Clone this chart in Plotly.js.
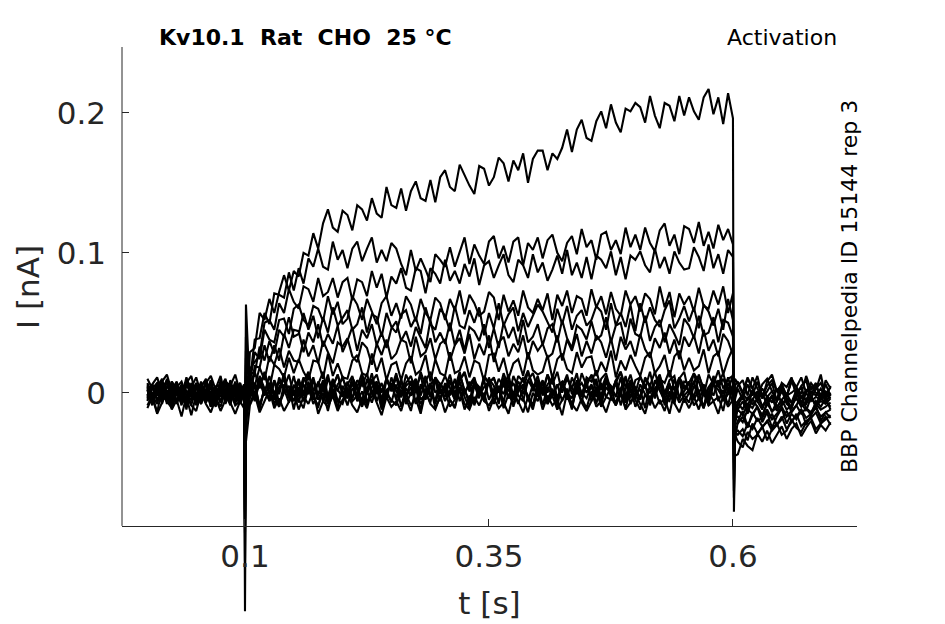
<!DOCTYPE html>
<html>
<head>
<meta charset="utf-8">
<script src="https://cdn.plot.ly/plotly-3.0.1.min.js"></script>
<style>
  html, body { margin: 0; padding: 0; background: #fff; }
  #chart { width: 945px; height: 624px; }
</style>
</head>
<body>
<div id="chart"></div>
<script>
// sample times in ms (pre-pulse, step on, step 0.1-0.6 s, step off, tail)
var tMs = [
  0,5,10,15,20,25,30,35,40,45,50,55,60,65,70,75,80,85,90,95,99,
  100,101,
  105,110,115,120,125,130,135,140,145,150,
  155,160,165,170,175,180,185,190,195,200,
  205,210,215,220,225,230,235,240,245,250,
  255,260,265,270,275,280,285,290,295,300,
  305,310,315,320,325,330,335,340,345,350,
  355,360,365,370,375,380,385,390,395,400,
  405,410,415,420,425,430,435,440,445,450,
  455,460,465,470,475,480,485,490,495,500,
  505,510,515,520,525,530,535,540,545,550,
  555,560,565,570,575,580,585,590,595,600,
  601,602,
  605,610,615,620,625,630,635,640,645,650,655,660,665,670,675,680,685,690,695,700
];

// currents in pA, one sweep per voltage step
var sweepA = [
  3,-5,6,-2,8,-7,1,-4,9,-3,5,-8,2,7,-6,4,-1,-9,6,-3,2,
  -156,-30,
  29,32,57,52,67,57,72,84,73,87,
  83,100,98,114,103,121,131,118,115,130,
  127,116,134,131,123,139,128,125,147,134,
  132,146,130,144,151,139,137,152,136,154,
  159,147,144,163,155,148,142,162,160,148,
  154,168,164,151,166,159,171,150,167,173,
  173,159,171,167,175,188,172,188,195,182,
  180,194,201,189,206,193,186,203,201,207,
  204,193,212,198,189,207,205,194,212,198,
  211,201,195,211,217,199,211,192,214,196,
  -85,-45,
  -44,-33,-38,-41,-29,-35,-27,-36,-30,-24,-33,-26,-22,-31,-25,-20,-29,-23,-27,-21
];
var sweepB = [
  -4,6,-2,9,-5,3,-8,1,7,-3,-6,4,10,-2,5,-7,2,-4,8,-1,-3,
  -95,-15,
  9,38,39,57,49,71,70,68,86,73,
  89,78,96,90,103,90,88,108,95,102,
  89,103,108,94,103,111,93,102,94,107,
  103,92,84,102,87,96,88,79,99,95,
  90,104,90,100,111,92,106,98,92,108,
  112,96,105,93,108,111,91,107,102,111,
  96,109,113,100,94,107,112,99,117,104,
  109,95,113,115,102,109,99,118,104,113,
  102,118,107,101,116,121,105,113,99,119,
  117,107,122,105,115,103,120,109,117,106,
  -62,-30,
  -35,-39,-28,-33,-30,-24,-34,-26,-22,-30,-27,-19,-25,-28,-21,-18,-26,-22,-17,-23
];
var sweepC = [
  5,-3,7,-6,2,-9,4,8,-2,-5,3,6,-7,1,-4,9,-8,2,5,-6,4,
  -60,5,
  17,22,27,50,52,45,64,57,74,65,
  60,76,74,65,82,69,72,82,68,79,
  82,66,81,79,69,87,75,85,68,83,
  78,89,75,73,89,87,71,89,85,78,
  95,80,87,78,92,83,96,77,91,94,
  82,91,99,84,79,95,91,82,99,86,
  93,80,88,98,85,102,84,93,82,97,
  81,98,95,89,101,84,97,81,98,95,
  101,91,86,103,89,97,85,101,93,88,
  89,104,97,87,106,89,99,85,102,97,
  -50,-28,
  -30,-26,-34,-22,-29,-25,-20,-27,-23,-17,-26,-21,-15,-24,-20,-18,-14,-22,-19,-16
];
var sweepD = [
  -6,4,-1,7,-8,3,5,-4,-9,2,6,-3,8,-7,1,4,-5,-2,7,-6,3,
  -90,-10,
  7,29,24,45,38,36,52,53,42,60,
  63,52,48,62,60,51,69,56,65,49,
  53,69,63,52,67,58,49,64,69,55,
  64,53,69,63,51,67,57,52,68,64,
  52,67,59,73,56,70,64,55,58,72,
  68,52,70,58,66,55,73,61,57,67,
  59,71,52,70,62,73,57,69,67,55,
  74,61,69,56,72,60,55,73,63,69,
  58,71,67,56,76,61,72,54,71,63,
  69,58,75,62,60,73,63,76,57,71,
  -55,-28,
  -27,-31,-22,-26,-18,-24,-21,-15,-23,-19,-13,-20,-17,-12,-18,-15,-11,-17,-14,-12
];
var sweepE = [
  2,-7,5,-1,-4,8,-6,3,-2,6,-9,4,-3,7,-5,2,9,-4,-1,5,-7,
  -75,0,
  14,14,33,23,37,28,45,40,54,40,
  42,57,45,55,39,54,43,61,48,54,
  59,45,49,61,43,56,54,40,57,47,
  43,56,59,47,54,42,61,49,45,60,
  55,44,62,48,46,59,50,61,41,57,
  46,64,48,56,61,44,57,47,55,63,
  58,50,43,60,49,62,45,55,59,48,
  52,62,58,45,64,48,57,47,63,44,
  64,50,61,52,47,59,66,46,53,62,
  51,61,46,63,58,48,60,45,67,52,
  -48,-22,
  -22,-17,-25,-14,-20,-18,-12,-19,-15,-10,-17,-13,-9,-15,-11,-14,-8,-12,-10,-7
];
var sweepF = [
  4,-2,-8,5,1,-6,7,-3,2,-9,5,-1,6,-4,3,-7,8,-2,-5,4,1,
  -45,15,
  -2,19,18,34,22,34,23,42,32,45,
  44,29,43,36,49,33,42,35,48,29,
  37,47,30,45,39,49,34,43,32,46,
  51,37,44,33,47,39,32,52,36,43,
  35,50,34,45,30,47,44,37,49,32,
  46,32,50,39,47,34,52,36,40,49,
  34,46,49,36,52,39,32,48,45,38,
  51,38,41,54,36,48,50,34,53,42,
  40,55,37,47,52,36,49,42,34,53,
  48,39,55,41,43,54,36,52,50,40,
  -40,-18,
  -17,-21,-12,-15,-10,-16,-8,-13,-11,-5,-12,-9,-4,-10,-7,-3,-9,-6,-8,-4
];
var sweepG = [
  -3,6,-5,2,8,-4,-7,5,1,-2,7,-6,3,-9,4,6,-3,1,-8,2,5,
  -40,30,
  12,5,18,9,26,20,32,18,30,23,
  22,38,26,34,21,37,29,21,36,33,
  39,26,22,36,32,20,35,27,38,24,
  28,38,36,21,40,26,29,39,24,35,
  38,23,34,39,28,42,24,35,27,41,
  22,36,40,26,35,29,41,24,37,30,
  35,25,28,41,23,38,30,42,26,37,
  28,41,36,25,39,23,40,31,37,26,
  42,31,25,39,32,43,28,38,24,40,
  33,41,28,45,30,38,26,42,37,27,
  -32,-14,
  -12,-16,-8,-11,-4,-9,-7,-2,-10,-5,-1,-7,-4,-8,0,-6,-3,-5,-1,-4
];
var sweepH = [
  6,-4,2,-8,5,-1,3,-6,9,-3,-5,7,-2,4,-9,1,6,-4,3,-7,2,
  -50,63,
  -1,15,3,15,3,20,17,11,25,14,
  24,15,9,23,22,10,28,12,21,11,
  10,23,27,14,12,28,15,25,9,20,
  22,9,21,26,13,16,27,8,24,14,
  12,29,14,16,26,11,23,21,8,27,
  28,15,25,10,21,24,12,29,16,13,
  15,27,10,24,28,17,14,29,18,25,
  26,12,22,15,30,11,23,16,27,19,
  12,25,29,14,19,27,11,26,30,16,
  25,16,19,31,14,26,29,13,24,32,
  -35,-12,
  -7,-12,-3,-8,-5,0,-9,-2,-6,1,-4,-7,2,-3,-5,1,-2,3,-4,0
];
var sweepI = [
  -5,3,7,-2,-6,4,1,-8,5,2,-3,8,-6,0,4,-7,3,6,-2,-4,1,
  -35,12,
  5,-4,9,0,12,-1,8,3,13,-2,
  10,-1,14,2,6,15,-3,9,1,12,
  -2,11,4,14,-1,8,13,0,10,3,
  14,-2,7,12,1,15,5,-3,11,6,
  2,13,-1,9,15,3,10,-2,12,7,
  11,0,14,4,-2,12,8,16,1,9,
  -1,13,6,15,0,10,3,14,-3,11,
  8,16,2,12,-1,9,15,4,13,0,
  12,3,15,-1,10,7,16,2,11,5,
  1,14,8,-2,13,6,16,3,10,12,
  -25,-8,
  -6,-1,-5,2,-4,3,-3,1,-5,4,-2,0,3,-4,2,-1,5,-3,1,-2
];
var sweepJ = [
  4,-8,2,6,-3,-9,5,1,-5,7,-2,3,-7,9,-4,0,6,-6,2,-1,-3,
  -30,8,
  3,-6,8,-2,5,-9,4,10,-4,1,
  -7,6,-1,9,-5,3,-8,7,2,-3,
  8,-4,5,-9,1,10,-6,3,-2,7,
  -5,9,-3,4,-8,6,0,-7,11,-1,
  5,-2,10,-6,3,-9,7,1,-4,8,
  -8,4,-1,9,-5,2,11,-6,6,-3,
  7,-5,3,-10,8,0,-4,9,-2,5,
  -3,10,-7,4,-1,7,-9,3,8,-5,
  6,-1,-8,9,2,-6,5,-3,10,-7,
  0,8,-5,3,-9,6,2,-4,7,-2,
  -20,-5,
  3,-5,6,-2,8,-4,1,7,-6,2,-3,9,-1,4,-7,5,0,-4,6,-2
];
var sweepK = [
  -2,5,-6,3,9,-4,-1,6,-8,2,4,-5,8,-3,-10,5,-1,3,-6,7,-4,
  -100,-20,
  -4,5,-9,2,7,-3,-10,6,1,-6,
  8,-2,4,-8,-1,9,-5,3,-11,5,
  -3,7,-6,1,-9,4,8,-4,2,-7,
  6,-10,3,-2,9,-5,-1,7,-8,4,
  -6,2,-4,8,-3,-11,5,-1,9,-5,
  3,-7,10,-4,1,-8,4,-2,-9,7,
  -9,4,-2,6,-6,3,-12,8,0,-4,
  5,-8,7,-3,-5,9,-1,-7,4,-10,
  -2,6,-9,3,8,-4,-6,10,-3,1,
  7,-5,2,-11,4,-2,9,-6,-1,5,
  -70,-25,
  -8,-3,-10,1,-6,-12,-2,-7,3,-9,-4,-11,0,-6,-8,-2,-10,-4,-7,-1
];
var sweepL = [
  -9,-2,-14,3,-6,-11,0,-7,-3,-16,-1,-8,2,-10,-4,-13,-5,1,-9,-6,-2,
  -55,-5,
  -8,1,-12,4,-6,-1,-10,3,-7,2,
  -4,-11,5,-3,-9,0,-13,2,-5,-8,
  3,-6,-2,-10,1,-7,4,-12,-1,-5,
  -9,2,-4,-13,3,-8,-1,5,-11,-3,
  1,-10,-5,2,-12,-2,-7,4,-6,-9,
  -3,3,-11,-1,-8,5,-4,-14,0,-6,
  4,-8,-2,-12,-5,1,-9,3,-7,-13,
  -6,2,-10,-3,4,-9,-1,-11,2,-5,
  -12,-1,-6,3,-8,-4,-15,1,-7,-2,
  2,-9,-4,-11,1,-6,-3,-13,4,-8,
  -45,-18,
  -12,-6,-15,-4,-10,-17,-7,-3,-13,-8,-5,-14,-9,-2,-11,-16,-6,-10,-4,-12
];
var sweepM = [
  7,-1,4,10,-5,2,8,-3,11,0,-6,5,9,-2,3,12,-4,6,1,-7,4,
  -20,25,
  6,-3,10,1,-5,8,-1,12,-4,4,
  9,-6,2,11,-2,7,-7,5,13,0,
  -4,8,3,-6,10,-1,6,-8,9,2,
  11,-3,5,8,-7,3,12,-2,-5,7,
  0,9,-4,13,2,-6,8,4,-3,10,
  5,-8,11,1,7,-2,-6,9,3,12,
  -2,6,10,-5,4,13,-1,7,-7,8,
  12,1,-4,9,5,-3,11,-6,6,2,
  -5,10,4,-2,12,0,7,-8,9,3,
  8,-4,13,2,-6,10,5,-1,11,-3,
  -15,0,
  5,9,-2,11,3,-4,8,13,1,6,-3,10,4,-1,12,2,7,-5,9,3
];
var sweepN = [
  2,-9,5,-4,10,-1,-7,3,-12,6,0,-5,8,-10,1,4,-6,9,-3,-8,0,
  -65,-10,
  -1,7,-10,3,-5,9,-8,0,5,-12,
  4,-6,8,-2,-11,6,-4,10,-7,1,
  -9,3,-1,11,-6,-3,7,-10,2,5,
  -4,10,-8,0,6,-13,3,-2,9,-6,
  7,-5,-11,4,-1,8,-9,2,-6,11,
  -3,5,-7,10,-10,1,6,-4,-12,3,
  9,-8,2,-5,7,-2,-11,5,-1,8,
  -6,4,-10,9,-3,-7,3,11,-8,0,
  2,-11,6,-4,8,-9,1,-5,10,-2,
  -7,5,-1,-10,4,9,-6,2,-9,6,
  -40,-15,
  -9,-2,-12,-5,1,-10,-4,-14,-6,2,-8,-11,-1,-7,-13,-3,-9,0,-6,-10
];
var sweepO = [
  -2,6,11,0,-6,8,3,-9,7,12,-3,5,-1,9,-7,4,10,-4,2,7,-5,
  -85,20,
  9,-2,6,14,0,-5,11,3,-1,12,
  -3,8,15,1,7,-6,10,4,13,-2,
  6,12,-4,9,2,14,-1,7,-5,11,
  1,-3,13,5,10,-2,8,15,0,4,
  12,3,-5,9,14,1,6,-4,11,7,
  -1,10,4,13,-3,8,2,15,5,-2,
  8,0,12,-4,6,11,3,-1,14,5,
  13,6,-2,10,1,7,15,-3,9,4,
  -4,11,5,15,2,-1,9,12,-5,8,
  7,14,0,6,-3,12,4,10,1,13,
  -30,5,
  8,0,11,3,-3,6,10,1,-5,7,4,11,-2,5,9,-4,3,7,-1,4
];
var sweepP = [
  -11,-3,-15,-7,1,-12,-5,-17,-2,-9,-13,0,-8,-14,-4,-10,2,-7,-15,-6,-11,
  -120,-35,
  -9,-1,-14,-6,2,-11,-4,-13,-7,0,
  -12,-3,-8,1,-15,-6,-10,-2,-13,-5,
  0,-9,-14,-4,-11,2,-7,-16,-3,-10,
  -6,-13,-1,-9,-4,-15,1,-8,-12,-2,
  -14,-5,-10,3,-8,-12,-3,-9,0,-13,
  -4,-11,-7,-15,-1,-6,-14,-3,-10,2,
  -12,-2,-9,-5,-16,0,-8,-13,-4,-11,
  1,-10,-6,-14,-3,-9,2,-12,-7,-1,
  -8,-15,-2,-11,-5,-13,-1,-7,-14,-4,
  -11,-3,-12,0,-9,-6,-15,-2,-10,-5,
  -75,-35,
  -20,-13,-24,-16,-10,-21,-14,-25,-17,-11,-22,-15,-19,-12,-23,-16,-9,-20,-14,-18
];
var sweepQ = [
  10,3,-2,8,13,1,6,-4,9,4,11,-1,7,12,2,-3,8,5,13,0,6,
  -40,40,
  7,-1,12,3,-4,9,1,14,-2,5,
  0,11,4,-5,8,2,13,-3,6,10,
  3,-4,9,5,14,-1,7,-6,11,1,
  12,4,-2,8,1,13,-5,6,10,2,
  -3,9,3,15,0,6,11,-2,4,8,
  10,1,7,-4,12,4,-1,9,14,3,
  2,13,-2,5,8,-5,11,3,7,0,
  6,-3,10,14,1,8,-1,12,-4,9,
  11,4,0,7,13,-2,5,2,10,15,
  -1,8,12,3,-4,10,6,14,1,4,
  -20,10,
  7,-1,10,3,12,-3,5,9,1,6,-2,8,4,11,0,7,2,13,-4,5
];

var sweeps = [sweepQ, sweepP, sweepO, sweepN, sweepM, sweepL, sweepK, sweepJ,
              sweepI, sweepH, sweepG, sweepF, sweepE, sweepD, sweepC, sweepB, sweepA];

var ink = '#262626';
var font = 'DejaVu Sans, Liberation Sans, sans-serif';

var data = sweeps.map(function (y, i) {
  if (y.length !== tMs.length) {
    throw new Error('sweep ' + i + ' has ' + y.length + ' points, want ' + tMs.length);
  }
  return {
    x: tMs.map(function (v) { return v / 1000; }),
    y: y.map(function (v) { return v / 1000; }),
    type: 'scatter',
    mode: 'lines',
    line: { color: '#000', width: 2.1 },
    hoverinfo: 'skip',
    showlegend: false
  };
});

var yBottom = -0.0951; // where the visible box ends

var layout = {
  width: 945,
  height: 624,
  margin: { l: 122, r: 88, t: 47, b: 6 },
  paper_bgcolor: '#fff',
  plot_bgcolor: 'rgba(0,0,0,0)',
  font: { family: font, color: ink },
  xaxis: {
    range: [-0.02602, 0.7271],
    anchor: 'free',
    position: 0.1611,
    tickvals: [0.1, 0.35, 0.6],
    ticktext: ['0.1', '0.35', '0.6'],
    ticks: 'inside',
    ticklen: 7,
    tickcolor: ink,
    showline: true,
    linecolor: ink,
    linewidth: 1,
    showgrid: false,
    zeroline: false,
    ticklabelstandoff: 3,
    tickfont: { size: 31, color: ink, family: font },
    title: { text: 't [s]', font: { size: 31, color: ink, family: font }, standoff: 19 }
  },
  yaxis: {
    range: [-0.1609, 0.247],
    tickvals: [0, 0.1, 0.2],
    ticktext: ['0', '0.1', '0.2'],
    ticks: 'inside',
    ticklen: 7,
    tickcolor: ink,
    showline: false,
    showgrid: false,
    zeroline: false,
    ticklabelstandoff: 15,
    tickfont: { size: 31, color: ink, family: font }
  },
  shapes: [{
    type: 'line', xref: 'paper', yref: 'y',
    x0: 0, x1: 0, y0: yBottom, y1: 0.247,
    line: { color: ink, width: 1 }
  }],
  annotations: [
    { text: '<b>Kv10.1  Rat  CHO  25 °C</b>', xref: 'paper', yref: 'paper',
      x: 0.048, y: 1.016, xanchor: 'left', yanchor: 'middle', showarrow: false,
      font: { size: 22, color: '#000', family: font } },
    { text: 'Activation', xref: 'paper', yref: 'paper',
      x: 0.9755, y: 1.016, xanchor: 'right', yanchor: 'middle', showarrow: false,
      font: { size: 22, color: '#000', family: font } },
    { text: 'BBP Channelpedia ID 15144 rep 3', xref: 'paper', yref: 'paper',
      x: 0.9905, y: 0.5797, xanchor: 'center', yanchor: 'middle', textangle: -90,
      showarrow: false, font: { size: 22, color: '#000', family: font } },
    { text: 'I [nA]', xref: 'paper', yref: 'paper',
      x: -0.1279, y: 0.5797, xanchor: 'center', yanchor: 'middle', textangle: -90,
      showarrow: false, font: { size: 31, color: ink, family: font } }
  ]
};

Plotly.newPlot('chart', data, layout, { staticPlot: true, displayModeBar: false });
</script>
</body>
</html>
